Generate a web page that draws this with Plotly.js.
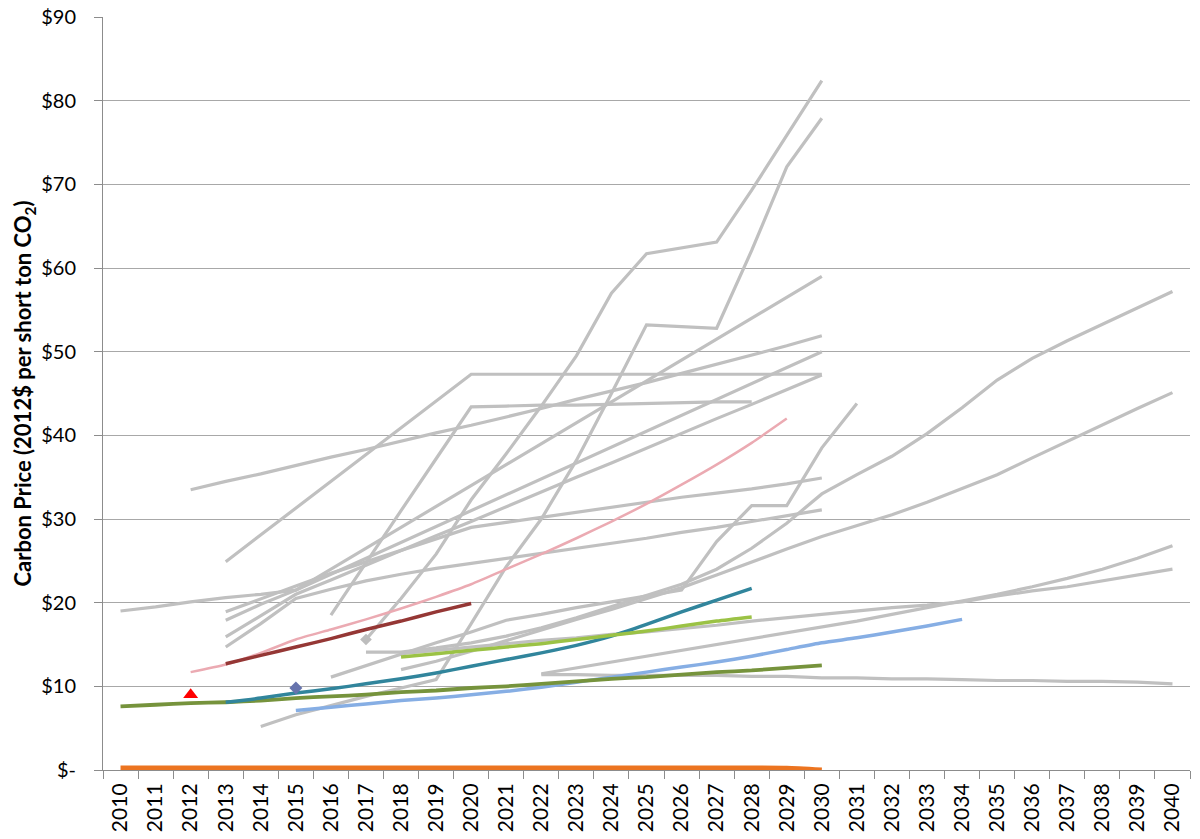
<!DOCTYPE html>
<html>
<head>
<meta charset="utf-8">
<script src="https://cdn.plot.ly/plotly-3.0.1.min.js"></script>
<style>html,body{margin:0;padding:0;background:#fff;}#chart{width:1200px;height:839px;}</style>
</head>
<body>
<div id="chart"></div>
<script>
var n = null;
var years = ['2010','2011','2012','2013','2014','2015','2016','2017','2018','2019','2020','2021','2022','2023','2024','2025','2026','2027','2028','2029','2030','2031','2032','2033','2034','2035','2036','2037','2038','2039','2040'];
var yTickVals = [0,10,20,30,40,50,60,70,80,90];
var yTickText = ['$-','$10','$20','$30','$40','$50','$60','$70','$80','$90'];

// gray scenario series (2010..2040)
var grayA  = [19.0,19.5,20.1,20.6,21.0,21.5,23.4,25.3,27.2,29.1,31.0,32.9,34.8,36.7,38.6,40.5,42.4,44.3,46.2,48.1,50.0,n,n,n,n,n,n,n,n,n,n];
var grayB  = [n,n,33.5,34.5,35.4,36.4,37.4,38.3,39.3,40.3,41.2,42.2,43.2,44.3,45.3,46.3,47.4,48.5,49.6,50.7,51.9,n,n,n,n,n,n,n,n,n,n];
var grayC  = [n,n,n,24.9,28.1,31.3,34.5,37.7,40.9,44.1,47.3,47.3,47.3,47.3,47.3,47.3,47.3,47.3,47.3,47.3,47.3,n,n,n,n,n,n,n,n,n,n];
var grayD  = [n,n,n,n,n,n,18.5,24.8,31.0,37.2,43.4,43.5,43.6,43.6,43.7,43.8,43.9,44.0,44.0,n,n,n,n,n,n,n,n,n,n,n,n];
var grayE  = [n,n,n,n,n,n,n,15.6,20.5,25.8,32.3,37.8,43.5,49.5,57.0,61.7,62.4,63.1,69.3,75.8,82.4,n,n,n,n,n,n,n,n,n,n];
var grayF  = [n,n,n,n,5.2,6.6,7.7,8.8,9.8,10.8,17.5,24.3,30.0,37.0,45.0,53.2,53.0,52.8,62.1,72.1,77.9,n,n,n,n,n,n,n,n,n,n];
var grayG  = [n,n,n,n,n,n,11.1,12.5,13.8,15.2,16.5,17.9,18.6,19.4,20.1,20.8,21.5,27.3,31.6,31.6,38.5,43.8,n,n,n,n,n,n,n,n,n];
var grayH  = [n,n,n,n,n,n,n,14.1,14.1,14.6,15.2,16.0,17.0,18.2,19.5,20.8,22.2,24.0,26.5,29.5,33.0,35.3,37.5,40.2,43.3,46.6,49.2,51.3,53.3,55.3,57.2];
var grayI  = [n,n,n,n,n,n,n,n,12.0,13.0,14.2,15.5,16.8,18.0,19.2,20.5,21.8,23.3,24.9,26.4,27.9,29.2,30.5,32.0,33.6,35.3,37.3,39.3,41.3,43.2,45.1];
var grayJ  = [n,n,n,n,n,n,n,n,n,n,n,n,11.5,12.2,12.9,13.6,14.3,15.0,15.7,16.4,17.1,17.8,18.6,19.4,20.2,21.0,21.9,22.9,24.0,25.3,26.8];
var grayK  = [n,n,n,n,n,n,n,n,13.9,14.3,14.7,15.1,15.5,15.8,16.2,16.5,16.9,17.3,17.8,18.2,18.6,19.0,19.4,19.7,20.1,20.8,21.4,21.9,22.6,23.3,24.0];
var grayL  = [n,n,n,n,n,n,n,n,n,n,n,n,11.4,11.4,11.3,11.3,11.3,11.3,11.2,11.2,11.0,11.0,10.9,10.9,10.8,10.7,10.7,10.6,10.6,10.5,10.3];
var grayM  = [n,n,n,14.7,17.5,20.5,21.6,22.6,23.4,24.1,24.7,25.3,25.9,26.5,27.1,27.7,28.4,29.0,29.7,30.4,31.1,n,n,n,n,n,n,n,n,n,n];
var grayN  = [n,n,n,15.9,18.5,21.0,22.7,24.5,26.2,28.0,29.7,31.5,33.2,35.0,36.7,38.5,40.2,42.0,43.7,45.5,47.2,n,n,n,n,n,n,n,n,n,n];
var grayO  = [n,n,n,17.9,19.8,21.5,24.0,26.5,29.0,31.5,34.0,36.5,39.0,41.5,44.0,46.5,49.0,51.5,54.0,56.5,59.0,n,n,n,n,n,n,n,n,n,n];
var grayP  = [n,n,n,18.9,20.5,22.0,23.5,24.9,26.2,27.6,29.0,29.6,30.2,30.8,31.4,32.0,32.6,33.1,33.6,34.2,34.9,n,n,n,n,n,n,n,n,n,n];
var grayPoint = [n,n,n,n,n,n,n,15.6,n,n,n,n,n,n,n,n,n,n,n,n,n,n,n,n,n,n,n,n,n,n,n];

// coloured series
var orangeS    = [0.25,0.25,0.25,0.25,0.25,0.25,0.25,0.25,0.25,0.25,0.25,0.25,0.25,0.25,0.25,0.25,0.25,0.25,0.25,0.22,0.0,n,n,n,n,n,n,n,n,n,n];
var oliveS     = [7.6,7.8,8.0,8.1,8.3,8.6,8.8,9.0,9.3,9.5,9.8,10.0,10.3,10.6,10.9,11.1,11.4,11.7,11.9,12.2,12.5,n,n,n,n,n,n,n,n,n,n];
var tealS      = [n,n,n,8.1,8.6,9.2,9.7,10.3,10.9,11.6,12.4,13.2,14.0,14.9,16.0,17.4,18.9,20.3,21.7,n,n,n,n,n,n,n,n,n,n,n,n];
var limeS      = [n,n,n,n,n,n,n,n,13.5,13.9,14.3,14.7,15.1,15.6,16.1,16.6,17.2,17.8,18.3,n,n,n,n,n,n,n,n,n,n,n,n];
var skyS       = [n,n,n,n,n,7.1,7.5,7.9,8.3,8.6,9.0,9.4,9.9,10.5,11.1,11.7,12.3,12.9,13.6,14.4,15.2,15.8,16.5,17.2,18.0,n,n,n,n,n,n];
var darkRedS   = [n,n,n,12.7,13.7,14.7,15.7,16.8,17.8,18.9,19.9,n,n,n,n,n,n,n,n,n,n,n,n,n,n,n,n,n,n,n,n];
var pinkS      = [n,n,11.7,12.6,14.0,15.6,16.8,18.0,19.3,20.7,22.2,24.0,25.8,27.7,29.7,31.8,34.1,36.5,39.1,42.0,n,n,n,n,n,n,n,n,n,n,n];
var redPoint   = [n,n,9.0,n,n,n,n,n,n,n,n,n,n,n,n,n,n,n,n,n,n,n,n,n,n,n,n,n,n,n,n];
var slatePoint = [n,n,n,n,n,9.8,n,n,n,n,n,n,n,n,n,n,n,n,n,n,n,n,n,n,n,n,n,n,n,n,n];

var grays = [grayA,grayB,grayC,grayD,grayE,grayF,grayG,grayH,grayI,grayJ,grayK,grayL,grayM,grayN,grayO,grayP];
var traces = [];
grays.forEach(function(s){
  traces.push({x: years, y: s, type:'scatter', mode:'lines', line:{color:'#C0C0C0', width:3.2}, hoverinfo:'skip'});
});
traces.push({x: years, y: grayPoint, type:'scatter', mode:'markers', marker:{color:'#BDBDBD', size:9, symbol:'diamond'}});

var coloured = [
  {y: skyS,     c:'#86AEE4', w:3.5},
  {y: oliveS,   c:'#76933C', w:3.8},
  {y: tealS,    c:'#31859C', w:3.5},
  {y: limeS,    c:'#9BC245', w:3.5},
  {y: pinkS,    c:'#EBAAB2', w:2.5},
  {y: darkRedS, c:'#953735', w:3.5},
  {y: orangeS,  c:'#EC7420', w:5}
];
coloured.forEach(function(s){
  traces.push({x: years, y: s.y, type:'scatter', mode:'lines', line:{color:s.c, width:s.w, shape:'spline', smoothing:0.6}});
});
traces.push({x: years, y: redPoint, type:'scatter', mode:'markers', marker:{color:'#FF0000', size:13, symbol:'triangle-up'}});
traces.push({x: years, y: slatePoint, type:'scatter', mode:'markers', marker:{color:'#6673AD', size:10, symbol:'diamond'}});

var fontFam = 'Lato, "Open Sans", sans-serif';
var layout = {
  width: 1200, height: 839,
  margin: {l:103, r:10, t:17, b:69, pad:0},
  paper_bgcolor:'#ffffff', plot_bgcolor:'#ffffff',
  showlegend:false,
  font:{family:fontFam, color:'#000'},
  xaxis:{
    type:'category', categoryorder:'array', categoryarray: years,
    range:[-0.5, 30.5], tickson:'boundaries', ticks:'outside', ticklen:8, tickwidth:1, tickcolor:'#8C8C8C',
    showline:true, linecolor:'#8C8C8C', linewidth:1, showgrid:false, zeroline:false,
    tickangle:-90, tickfont:{family:fontFam, size:21, color:'#000'}, ticklabelstandoff:4,
    automargin:false, fixedrange:true
  },
  yaxis:{
    range:[0,90], tickvals:yTickVals, ticktext:yTickText, ticks:'outside', ticklen:8, tickwidth:1, tickcolor:'#8C8C8C',
    showline:true, linecolor:'#8C8C8C', linewidth:1, showgrid:true, gridcolor:'#A8A8A8', gridwidth:1, zeroline:false,
    tickfont:{family:fontFam, size:20, color:'#000'}, ticklabelstandoff:14,
    title:{text:'<b>Carbon Price (2012$ per short ton CO<sub>2</sub>)</b>', font:{family:fontFam, size:22, color:'#000'}, standoff:3},
    automargin:false, fixedrange:true
  }
};
Plotly.newPlot('chart', traces, layout, {displayModeBar:false, staticPlot:true});
</script>
</body>
</html>
